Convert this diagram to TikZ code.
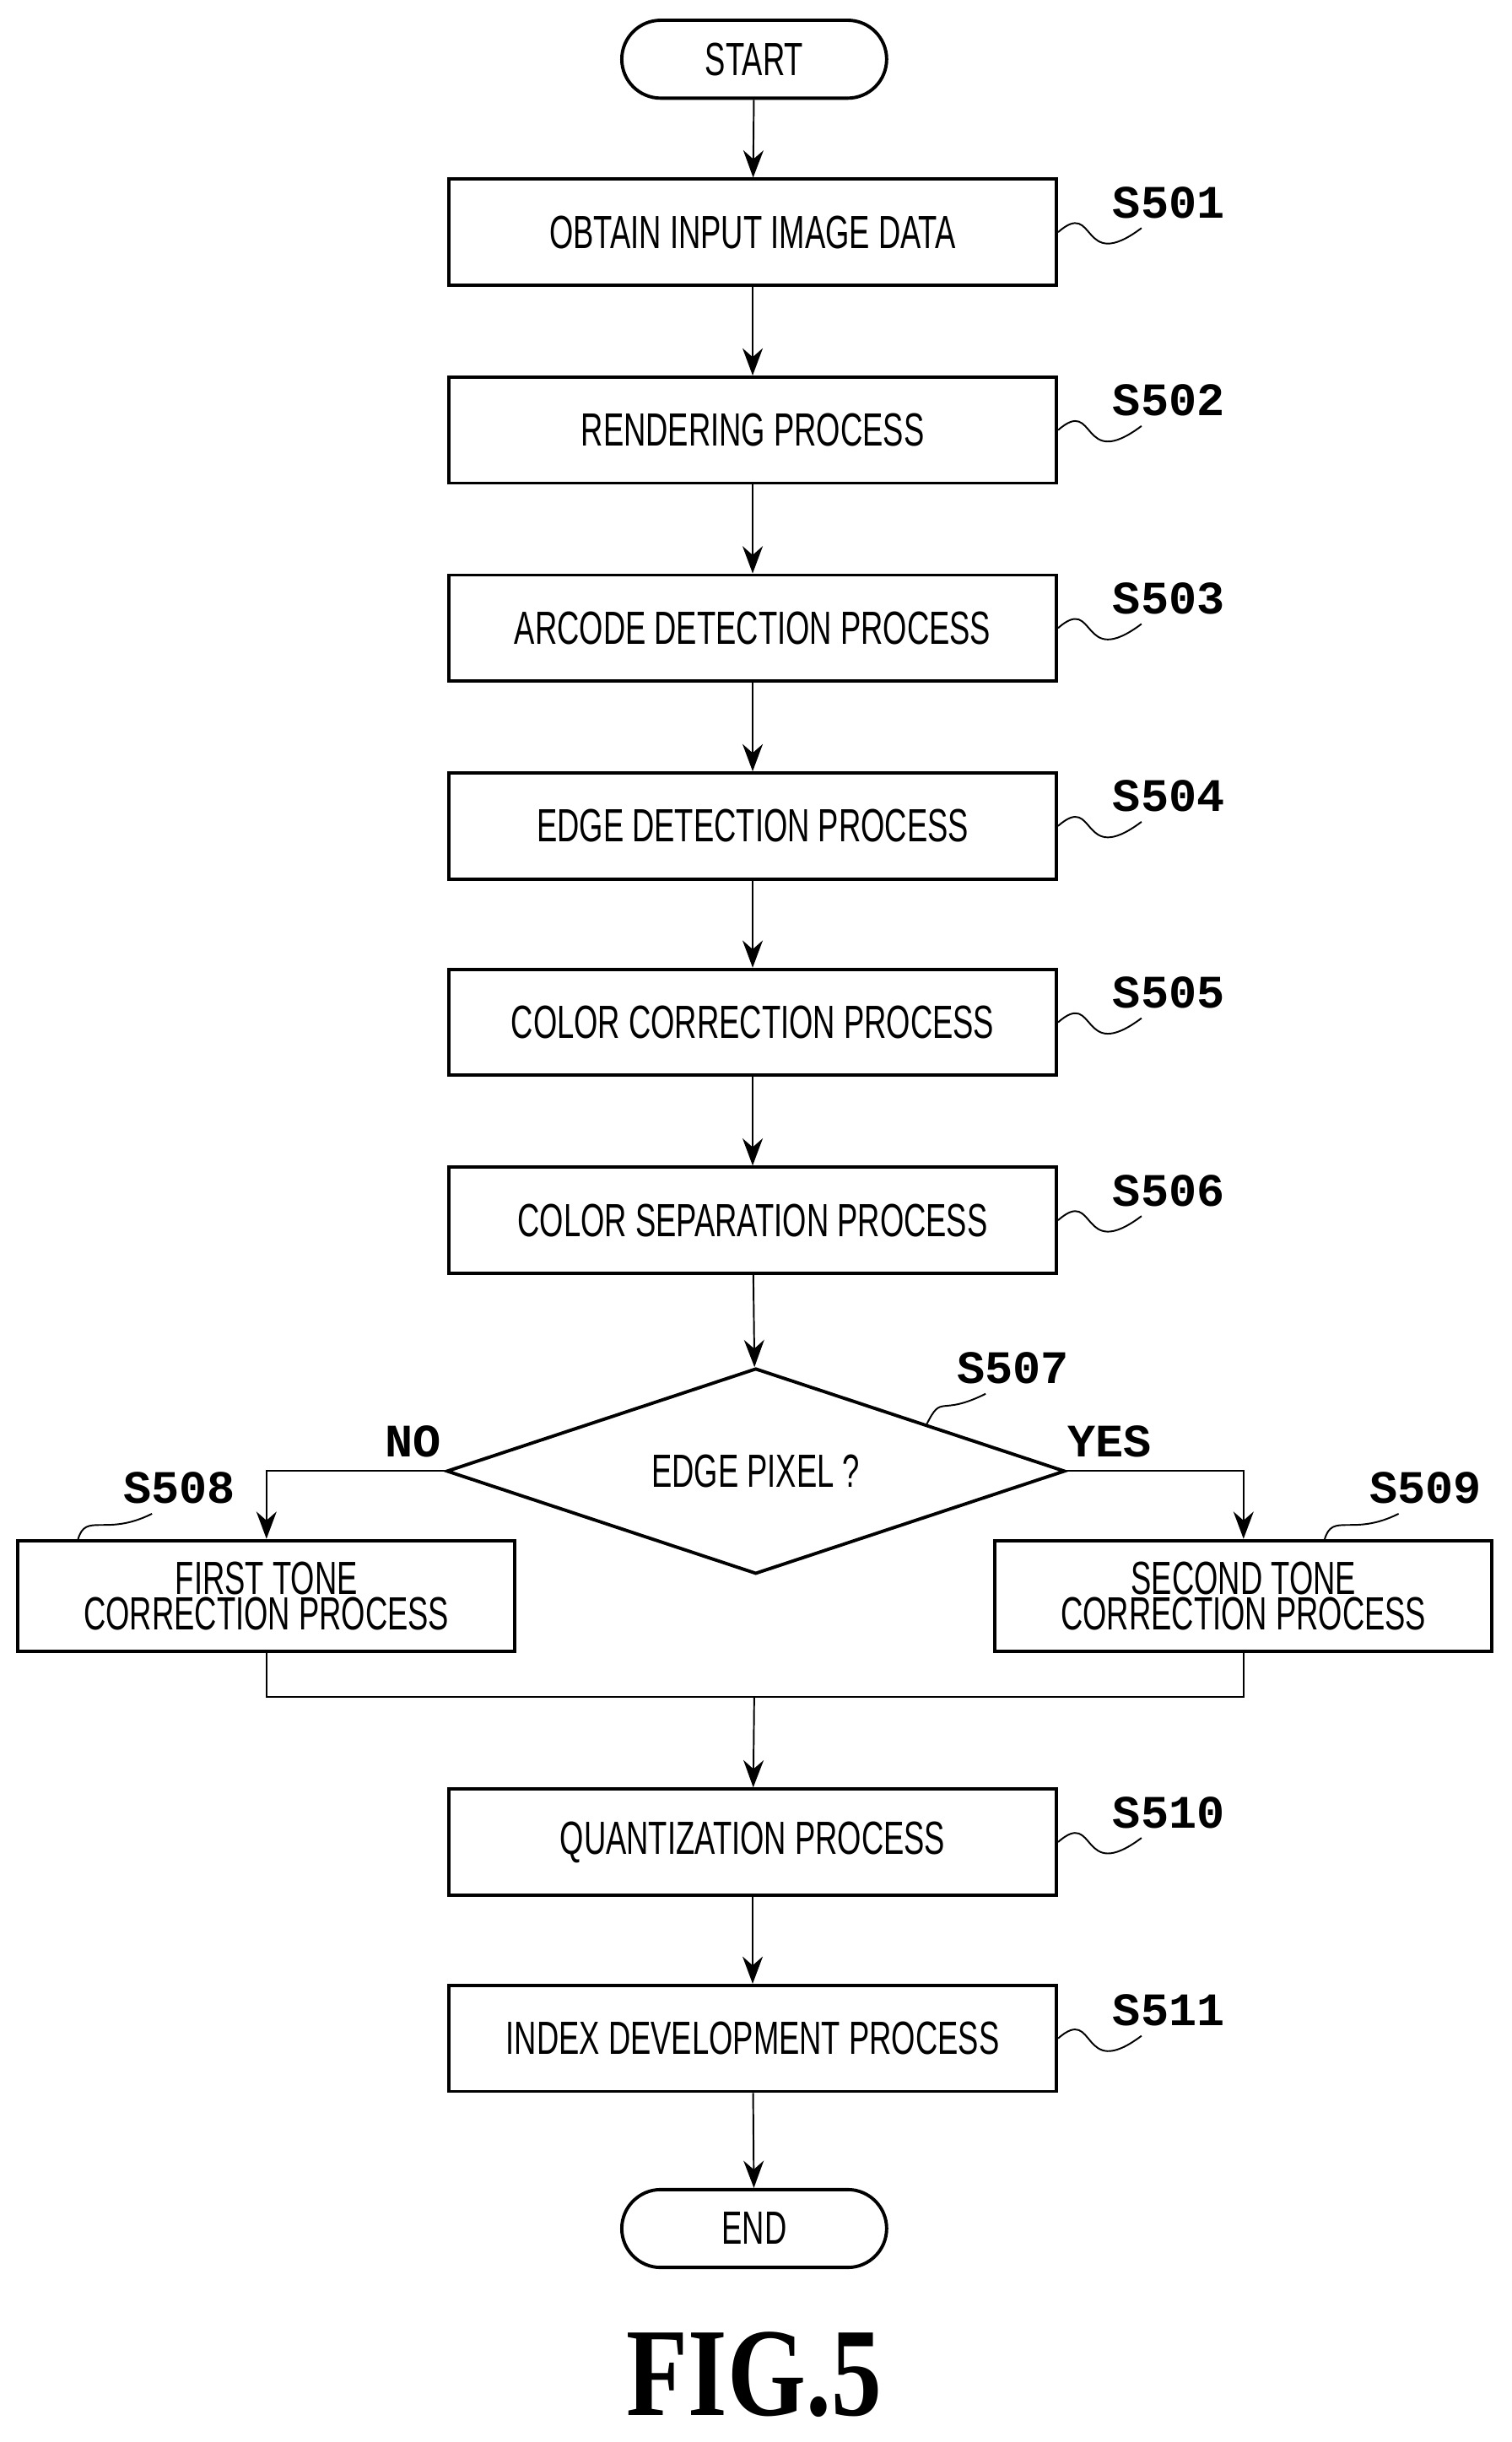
\documentclass[tikz,border=0pt]{standalone}
\usepackage{fontspec}
\newfontfamily\boxfont[FakeStretch=0.66]{Liberation Sans}
\newfontfamily\labfont{Liberation Mono}
\newfontfamily\figfont[FakeStretch=0.8]{Liberation Serif}
\usetikzlibrary{shapes.geometric}
\usetikzlibrary{calc}
\usetikzlibrary{arrows.meta}
\begin{document}
\begin{tikzpicture}[x=0.02cm, y=-0.02cm, font=\boxfont\fontsize{17}{17}\selectfont,
  proc/.style={draw, very thick, minimum width=7.8cm, minimum height=1.36cm, inner sep=0pt},
  side/.style={draw, very thick, minimum width=6.38cm, minimum height=1.42cm, inner sep=0pt, align=center},
  term/.style={draw, very thick, rounded corners=0.5cm, minimum width=3.4cm, minimum height=1cm},
  dec/.style={draw, very thick, diamond, aspect=3, minimum width=7.94cm, minimum height=2.64cm, inner sep=0pt},
  lab/.style={font=\labfont\bfseries\fontsize{17}{17}\selectfont},
  edge/.style={draw, semithick, -{Stealth[length=3.5mm, width=2.6mm]}},
  sq/.style={draw, semithick},
]
\useasboundingbox (0,0) rectangle (970,1567);
%terminals and steps
\node[term] (start) at (484,38) {START};
\node[proc] (s501) at (483,149) {OBTAIN INPUT IMAGE DATA};
\node[proc] (s502) at (483,276) {RENDERING PROCESS};
\node[proc] (s503) at (483,403) {ARCODE DETECTION PROCESS};
\node[proc] (s504) at (483,530) {EDGE DETECTION PROCESS};
\node[proc] (s505) at (483,656) {COLOR CORRECTION PROCESS};
\node[proc] (s506) at (483,783) {COLOR SEPARATION PROCESS};
\node[dec] (s507) at (485,944) {EDGE PIXEL ?};
\node[side] (s508) at (171,1024) {FIRST TONE\\[-4pt]CORRECTION PROCESS};
\node[side] (s509) at (798,1024) {SECOND TONE\\[-4pt]CORRECTION PROCESS};
\coordinate (merge) at (484,1089);
\node[proc] (s510) at (483,1182) {QUANTIZATION PROCESS};
\node[proc] (s511) at (483,1308) {INDEX DEVELOPMENT PROCESS};
\node[term] (end) at (484,1430) {END};
\node[font=\figfont\bfseries\fontsize{46}{46}\selectfont] (fig) at (484,1524) {FIG.5};
%step labels
\foreach \n/\y in {501/130, 502/257, 503/384, 504/511, 505/637, 506/764, 510/1163, 511/1290}
{
  \node[lab] (l\n) at (750,\y) {S\n};
  \draw[sq] (s\n.east) .. controls +(25,-22) and +(-40,30) .. ([xshift=14]l\n.south west);
}
\node[lab] (l507) at (650,878) {S507};
\draw[sq] ($(s507.north)!0.55!(s507.east)$) .. controls +(10,-20) and +(-30,15) .. ([xshift=14]l507.south west);
\node[lab] (l508) at (115,955) {S508};
\draw[sq] (50,988) .. controls +(5,-18) and +(-30,15) .. ([xshift=14]l508.south west);
\node[lab] (l509) at (915,955) {S509};
\draw[sq] (850,988) .. controls +(5,-18) and +(-30,15) .. ([xshift=14]l509.south west);
\node[lab] (no) at (265,925) {NO};
\node[lab] (yes) at (712,925) {YES};
%connectors
\foreach \a/\b in {start/s501, s501/s502, s502/s503, s503/s504, s504/s505, s505/s506, s506/s507, s510/s511, s511/end}
  \draw[edge] (\a) -- (\b);
\draw[edge] (s507.west) -| (s508.north);
\draw[edge] (s507.east) -| (s509.north);
\draw[semithick] (s508.south) |- (merge) -| (s509.south);
\draw[edge] (merge) -- (s510);
\end{tikzpicture}
\end{document}
